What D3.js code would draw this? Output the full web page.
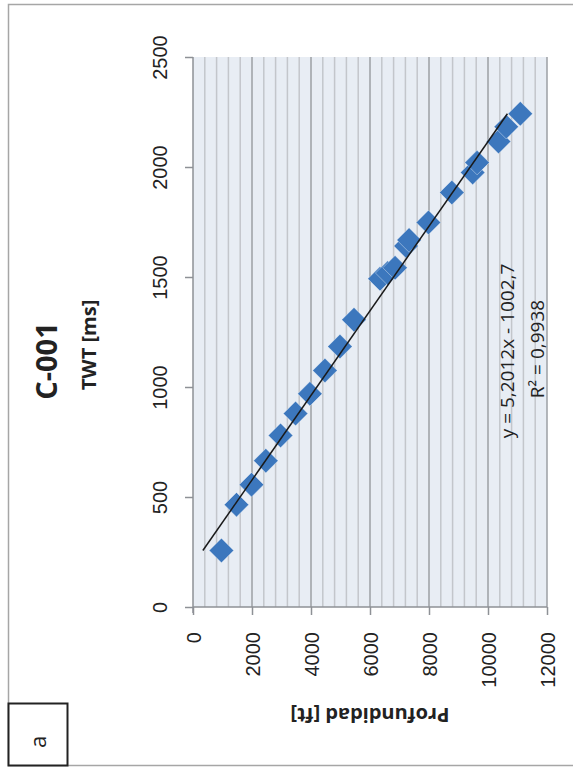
<!DOCTYPE html>
<meta charset="utf-8">
<title>C-001</title>
<style>
body { margin: 0; background: #fff; }
svg { display: block; font-family: "Open Sans", sans-serif; }
.tick text { font-size: 20px; fill: #222; }
</style>
<svg width="573" height="771"></svg>
<script src="https://cdn.jsdelivr.net/npm/d3@7"></script>
<script>

// data
var depth = [964, 1474, 1983, 2469, 2968, 3477, 3963, 4473, 4982, 5458, 6340, 6600,
             6850, 7223, 7325, 7981, 8775, 9480, 9630, 10357, 10620, 11095];
var twt   = [257, 465, 556, 665, 780, 879, 969, 1075, 1184, 1306, 1492, 1518,
             1542, 1641, 1668, 1748, 1884, 1975, 2020, 2116, 2183, 2242];
var depthTicks = [0, 2000, 4000, 6000, 8000, 10000, 12000];
var twtTicks = [0, 500, 1000, 1500, 2000, 2500];
var slope = 5.2012, intercept = -1002.7;   // profundidad = slope * twt + intercept
var eqText = "y = 5,2012x - 1002,7";
var r2Text = "R\u00b2 = 0,9938";

var svg = d3.select("svg");

var x = d3.scaleLinear().domain([0, 12000]).range([193, 547]);
var y = d3.scaleLinear().domain([0, 2500]).range([607, 57]);
var fmt = d3.format("d");

// outer frame
svg.append("path")
    .attr("d", "M575,4.5H8.5V765.5H575")
    .attr("fill", "none")
    .attr("stroke", "#a6a6a6")
    .attr("stroke-width", 1.5);

// plot area
svg.append("rect")
    .attr("x", x(0)).attr("y", y(2500))
    .attr("width", x(12000) - x(0)).attr("height", y(0) - y(2500))
    .attr("fill", "#e8edf4");

// vertical gridlines, minor every 400, major every 2000
var grid = svg.append("g");
grid.selectAll("line")
    .data(d3.range(400, 12001, 400))
  .enter().append("line")
    .attr("x1", function(d) { return x(d); })
    .attr("x2", function(d) { return x(d); })
    .attr("y1", y(2500)).attr("y2", y(0))
    .attr("stroke", function(d) { return d % 2000 === 0 ? "#9c9fa4" : "#c3c6cb"; })
    .attr("stroke-width", 1.5);

// axes
var xAxis = svg.append("g")
    .attr("transform", "translate(0," + y(0) + ")")
    .call(d3.axisBottom(x).tickValues(depthTicks).tickFormat(fmt).tickSize(8).tickSizeOuter(0));
xAxis.selectAll(".tick text")
    .attr("transform", "rotate(-90)")
    .attr("text-anchor", "end")
    .attr("x", -25).attr("y", 0).attr("dy", "0.35em");

var yAxis = svg.append("g")
    .attr("transform", "translate(" + x(0) + ",0)")
    .call(d3.axisLeft(y).tickValues(twtTicks).tickFormat(fmt).tickSize(8).tickSizeOuter(0));
yAxis.selectAll(".tick text")
    .attr("transform", "rotate(-90)")
    .attr("text-anchor", "middle")
    .attr("x", 0).attr("y", -26).attr("dy", "0");

svg.selectAll(".domain, .tick line")
    .attr("stroke", "#8e9196")
    .attr("stroke-width", 1.5);
// y axis line runs a little below the x axis, like the original
yAxis.select(".domain").attr("d", "M0," + y(2500) + "V" + (y(0) + 6));
xAxis.select(".domain").attr("d", "M" + x(0) + ",0H" + x(12000));

// points
var pts = d3.zip(depth, twt);
svg.append("g")
  .selectAll("path")
    .data(pts)
  .enter().append("path")
    .attr("d", d3.symbol().type(d3.symbolSquare).size(300))
    .attr("transform", function(d) { return "translate(" + x(d[0]) + "," + y(d[1]) + ") rotate(45)"; })
    .attr("fill", "#3c77bd")
    .attr("stroke", "#fff")
    .attr("stroke-width", 0.6)
    .attr("stroke-opacity", 0.6);

// trendline
var tMin = d3.min(twt), tMax = d3.max(twt);
svg.append("line")
    .attr("x1", x(slope * tMin + intercept)).attr("y1", y(tMin))
    .attr("x2", x(slope * tMax + intercept)).attr("y2", y(tMax))
    .attr("stroke", "#1a1a1a")
    .attr("stroke-width", 1.5);

// equation
svg.append("text")
    .attr("transform", "translate(514,351) rotate(-90)")
    .attr("text-anchor", "middle")
    .style("font-size", "19px").attr("fill", "#222")
    .text(eqText);
svg.append("text")
    .attr("transform", "translate(544,349) rotate(-90)")
    .attr("text-anchor", "middle")
    .style("font-size", "19px").attr("fill", "#222")
    .text(r2Text);

// titles
svg.append("text")
    .attr("transform", "translate(57,361) rotate(-90)")
    .attr("text-anchor", "middle")
    .style("font-size", "29px").style("font-weight", "bold").attr("fill", "#222")
    .text("C-001");
svg.append("text")
    .attr("transform", "translate(96,345) rotate(-90)")
    .attr("text-anchor", "middle")
    .style("font-size", "20px").style("font-weight", "bold").attr("fill", "#222")
    .text("TWT [ms]");
svg.append("text")
    .attr("transform", "translate(370,708) rotate(180)")
    .attr("text-anchor", "middle")
    .style("font-size", "20px").style("font-weight", "bold").attr("fill", "#222")
    .text("Profundidad [ft]");

// panel label
svg.append("rect")
    .attr("x", 8.5).attr("y", 703.5).attr("width", 59).attr("height", 62)
    .attr("fill", "#fff").attr("stroke", "#222").attr("stroke-width", 2);
svg.append("text")
    .attr("transform", "translate(46,742) rotate(-90)")
    .attr("text-anchor", "middle")
    .style("font-size", "22px").attr("fill", "#222")
    .text("a");

</script>
